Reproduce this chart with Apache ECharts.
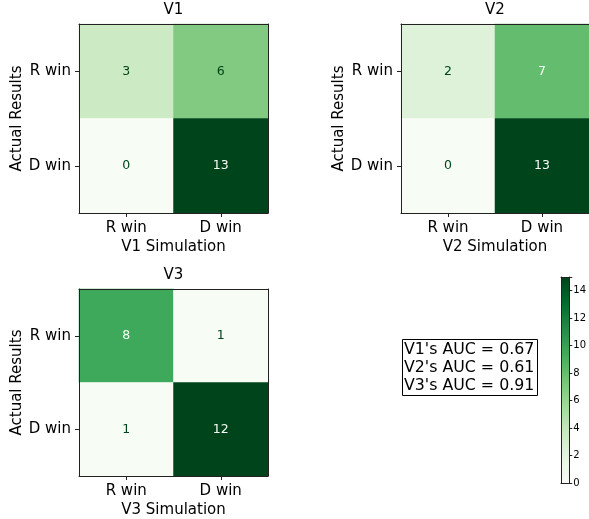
<!DOCTYPE html>
<html>
<head>
<meta charset="utf-8">
<script src="https://cdn.jsdelivr.net/npm/echarts@6/dist/echarts.min.js"></script>
<style>html,body{margin:0;padding:0;background:#fff;}#c{width:589px;height:519px;}</style>
</head>
<body>
<div id="c"></div>
<script>
// ---- data ----
const categories = ['R win', 'D win'];
const panelTitles = ['V1', 'V2', 'V3'];
const xAxisNames = ['V1 Simulation', 'V2 Simulation', 'V3 Simulation'];
const yAxisName = 'Actual Results';
const v1Values = [[3, 6], [0, 13]];
const v2Values = [[2, 7], [0, 13]];
const v3Values = [[8, 1], [1, 12]];
const aucNames = ["V1's AUC", "V2's AUC", "V3's AUC"];
const aucValues = [0.67, 0.61, 0.91];
const colorbarTicks = [0, 2, 4, 6, 8, 10, 12, 14];
const colorbarMin = 0;
const colorbarMax = 15;
const greens = ['#f7fcf5', '#e5f5e0', '#c7e9c0', '#a1d99b', '#74c476', '#41ab5d', '#238b45', '#006d2c', '#00441b'];

// ---- layout ----
const FONT = 'DejaVu Sans';
const grids = [
  { left: 79, top: 24, width: 189, height: 189 },
  { left: 401, top: 24, width: 189, height: 189 },
  { left: 79, top: 289, width: 189, height: 189 },
  { left: 561, top: 277, width: 11, height: 206 }
];
const matrices = [v1Values, v2Values, v3Values];
const lineStyle = { color: '#222', width: 1 };

const xAxes = [], yAxes = [], series = [], visualMaps = [];
matrices.forEach((m, k) => {
  const flat = m.flat();
  const mn = Math.min(...flat), mx = Math.max(...flat);
  const thresh = (mn + mx) / 2;
  xAxes.push({
    type: 'category', gridIndex: k, data: categories, position: 'bottom', z: 10,
    axisLine: { show: true, lineStyle },
    axisTick: { show: true, alignWithLabel: true, length: 4, lineStyle },
    axisLabel: { color: '#000', fontFamily: FONT, fontSize: 15, margin: 8 },
    name: xAxisNames[k], nameLocation: 'middle', nameGap: 27,
    nameTextStyle: { color: '#000', fontFamily: FONT, fontSize: 15 },
    splitLine: { show: false }
  });
  xAxes.push({
    type: 'category', gridIndex: k, data: categories, position: 'top', z: 10,
    axisLine: { show: true, onZero: false, lineStyle }, axisTick: { show: false }, axisLabel: { show: false },
    name: panelTitles[k], nameLocation: 'middle', nameGap: 6,
    nameTextStyle: { color: '#000', fontFamily: FONT, fontSize: 15 }
  });
  yAxes.push({
    type: 'category', gridIndex: k, data: categories, inverse: true, position: 'left', z: 10,
    axisLine: { show: true, lineStyle },
    axisTick: { show: true, alignWithLabel: true, length: 4, lineStyle },
    axisLabel: { color: '#000', fontFamily: FONT, fontSize: 15, margin: 8 },
    name: yAxisName, nameLocation: 'middle', nameGap: 54, nameRotate: 90,
    nameTextStyle: { color: '#000', fontFamily: FONT, fontSize: 15 }
  });
  yAxes.push({
    type: 'category', gridIndex: k, data: categories, inverse: true, position: 'right', z: 10,
    axisLine: { show: true, onZero: false, lineStyle }, axisTick: { show: false }, axisLabel: { show: false }
  });
  const data = [];
  m.forEach((row, i) => row.forEach((v, j) => {
    data.push({ value: [j, i, v], label: { color: v < thresh ? greens[8] : greens[0] } });
  }));
  series.push({
    type: 'heatmap', xAxisIndex: 2 * k, yAxisIndex: 2 * k, data, z: 2,
    label: { show: true, fontFamily: FONT, fontSize: 12.5 },
    itemStyle: { borderWidth: 0 }, emphasis: { disabled: true }
  });
  visualMaps.push({
    type: 'continuous', show: false, seriesIndex: k, dimension: 2,
    min: mn, max: mx, inRange: { color: greens }
  });
});

// colorbar
xAxes.push({
  type: 'category', gridIndex: 3, data: [''], position: 'bottom', z: 10,
  axisLine: { show: true, lineStyle }, axisTick: { show: false }, axisLabel: { show: false }
});
xAxes.push({
  type: 'category', gridIndex: 3, data: [''], position: 'top', z: 10,
  axisLine: { show: true, onZero: false, lineStyle }, axisTick: { show: false }, axisLabel: { show: false }
});
yAxes.push({
  type: 'value', gridIndex: 3, min: colorbarMin, max: colorbarMax, interval: 2, position: 'right', z: 10,
  axisLine: { show: true, lineStyle },
  axisTick: { show: true, length: 3, lineStyle },
  axisLabel: { color: '#000', fontFamily: FONT, fontSize: 10, margin: 4,
    formatter: v => colorbarTicks.includes(v) ? String(v) : '' },
  splitLine: { show: false }
});
yAxes.push({
  type: 'value', gridIndex: 3, min: colorbarMin, max: colorbarMax, position: 'left', z: 10,
  axisLine: { show: true, onZero: false, lineStyle }, axisTick: { show: false }, axisLabel: { show: false },
  splitLine: { show: false }
});
const gradStops = greens.map((c, i) => ({ offset: i / (greens.length - 1), color: c }));
series.push({
  type: 'bar', xAxisIndex: 6, yAxisIndex: 6, data: [colorbarMax], barWidth: '100%',
  itemStyle: { color: new echarts.graphic.LinearGradient(0, 1, 0, 0, gradStops) },
  emphasis: { disabled: true }, silent: true
});

const aucText = aucNames.map((n, i) => n + ' = ' + aucValues[i].toFixed(2)).join('\n');

const chart = echarts.init(document.getElementById('c'), null, { renderer: 'canvas' });
chart.setOption({
  backgroundColor: '#fff',
  animation: false,
  title: {
    text: aucText, left: 402, top: 339,
    backgroundColor: '#fff', borderColor: '#000', borderWidth: 1,
    padding: [2, 3, 1, 2],
    textStyle: { color: '#000', fontFamily: FONT, fontSize: 15.8, fontWeight: 'normal', lineHeight: 18 }
  },
  grid: grids.map(g => Object.assign({ containLabel: false }, g)),
  xAxis: xAxes,
  yAxis: yAxes,
  visualMap: visualMaps,
  series
});
</script>
</body>
</html>
